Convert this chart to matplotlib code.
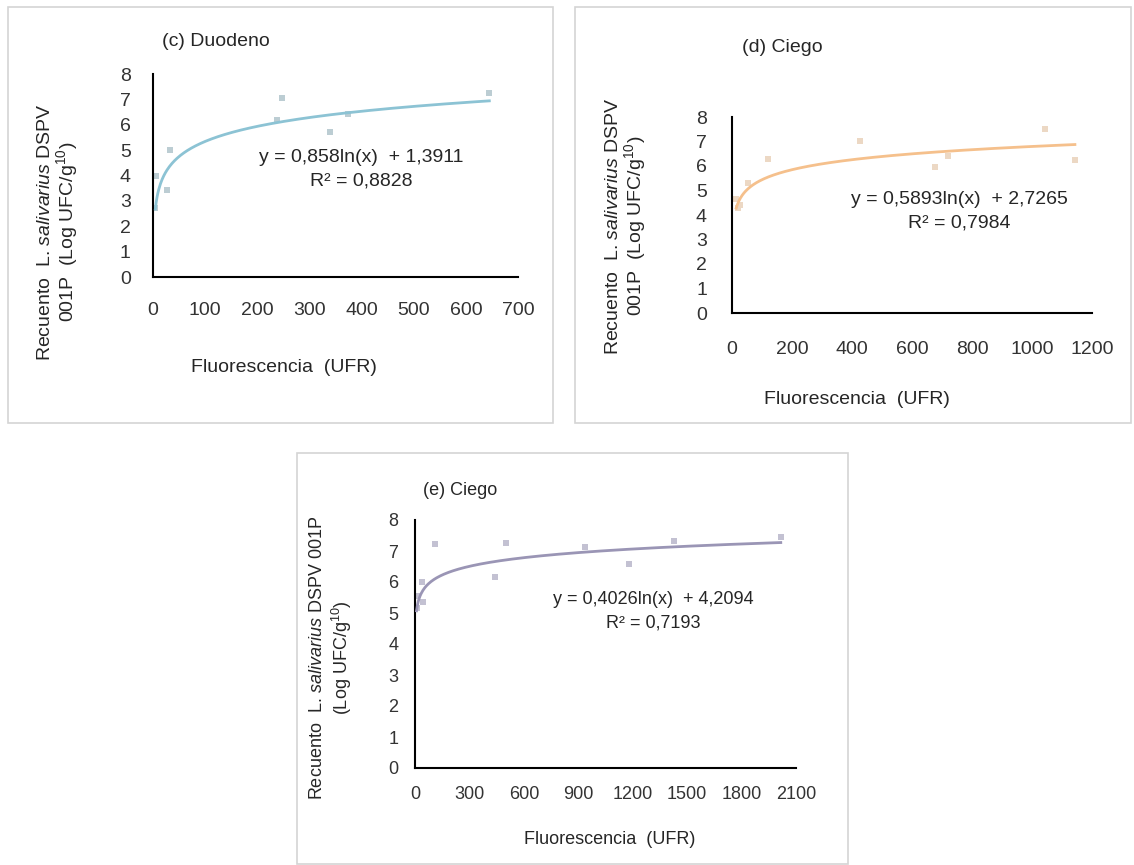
import numpy as np
import matplotlib
matplotlib.use('Agg')
import matplotlib.pyplot as plt
from matplotlib.patches import Rectangle

plt.rcParams['font.family'] = ['Liberation Sans', 'DejaVu Sans']
plt.rcParams['mathtext.fontset'] = 'custom'
plt.rcParams['mathtext.rm'] = 'Liberation Sans'
plt.rcParams['mathtext.it'] = 'Liberation Sans:italic'

W, H = 1134, 865

# (c) Duodeno
duo_x = [4.5, 6, 26, 33, 238, 248, 340, 374, 645]
duo_y = [2.7, 4.0, 3.43, 5.0, 6.19, 7.04, 5.73, 6.44, 7.24]
duo_fit = (0.858, 1.3911)

# (d) Ciego
cie_d_x = [14, 20, 28, 53, 121, 427, 677, 721, 1043, 1143]
cie_d_y = [4.65, 4.3, 4.4, 5.3, 6.3, 7.04, 5.97, 6.42, 7.49, 6.26]
cie_d_fit = (0.5893, 2.7265)

# (e) Ciego
cie_e_x = [8.5, 12, 37, 42, 110, 441, 502, 937, 1181, 1428, 2016]
cie_e_y = [5.15, 5.55, 6.0, 5.35, 7.21, 6.16, 7.26, 7.13, 6.57, 7.32, 7.45]
cie_e_fit = (0.4026, 4.2094)

fig = plt.figure(figsize=(W / 100, H / 100), dpi=100)


def fx(px):
    return px / W


def fy(py):
    return 1 - py / H


def box(x0, y0, x1, y1):
    fig.add_artist(Rectangle((fx(x0), fy(y1)), fx(x1) - fx(x0), (y1 - y0) / H,
                             transform=fig.transFigure, fill=False,
                             edgecolor='#d4d4d4', linewidth=1.2))


def panel(rect, xs, ys, fit, xmax, xstep, line_c, mark_c, fs, xpad, ypad):
    l, r, t, b = rect
    ax = fig.add_axes([fx(l), fy(b), fx(r) - fx(l), (b - t) / H])
    xs = np.array(xs)
    ax.scatter(xs, ys, s=14, marker='s', color=mark_c, zorder=2, linewidths=0)
    xx = np.linspace(xs.min(), xs.max(), 400)
    ax.plot(xx, fit[0] * np.log(xx) + fit[1], color=line_c, lw=2.0, zorder=3)
    ax.set_xlim(0, xmax)
    ax.set_ylim(0, 8)
    ax.set_xticks(np.arange(0, xmax + 1, xstep))
    ax.set_yticks(range(0, 9))
    for s in ['top', 'right']:
        ax.spines[s].set_visible(False)
    for s in ['left', 'bottom']:
        ax.spines[s].set_linewidth(1.5)
        ax.spines[s].set_color('black')
    ax.tick_params(axis='x', length=0, pad=xpad, labelsize=fs, colors='#333333')
    ax.tick_params(axis='y', length=0, pad=ypad, labelsize=fs, colors='#333333')
    ax.patch.set_alpha(0)
    return ax


lab1 = r'Recuento  L. $\mathit{salivarius}$ DSPV'
lab2 = r'001P  (Log UFC/g$^{10}$)'

# panel (c)
box(8, 7, 553, 423)
panel((153, 518, 74, 277), duo_x, duo_y, duo_fit, 700, 100,
      '#8cc3d4', '#bccdd3', 14, 18, 16)
fig.text(fx(162), fy(42), '(c) Duodeno', fontsize=14, ha='left', va='center', color='#262626')
fig.text(fx(284), fy(368), 'Fluorescencia  (UFR)', fontsize=14, ha='center', va='center', color='#262626')
fig.text(fx(46), fy(232), lab1, fontsize=14, rotation=90, ha='center', va='center', color='#262626')
fig.text(fx(67), fy(232), lab2, fontsize=14, rotation=90, ha='center', va='center', color='#262626')
fig.text(fx(361), fy(158), 'y = 0,858ln(x)  + 1,3911', fontsize=14, ha='center', va='center', color='#262626')
fig.text(fx(361), fy(181), 'R² = 0,8828', fontsize=14, ha='center', va='center', color='#262626')

# panel (d)
box(575, 7, 1131, 423)
panel((732, 1092, 117, 313), cie_d_x, cie_d_y, cie_d_fit, 1200, 200,
      '#f5c08c', '#ecd8c4', 14, 20, 18)
fig.text(fx(742), fy(47), '(d) Ciego', fontsize=14, ha='left', va='center', color='#262626')
fig.text(fx(857), fy(400), 'Fluorescencia  (UFR)', fontsize=14, ha='center', va='center', color='#262626')
fig.text(fx(613), fy(226), lab1, fontsize=14, rotation=90, ha='center', va='center', color='#262626')
fig.text(fx(635), fy(226), lab2, fontsize=14, rotation=90, ha='center', va='center', color='#262626')
fig.text(fx(959), fy(200), 'y = 0,5893ln(x)  + 2,7265', fontsize=14, ha='center', va='center', color='#262626')
fig.text(fx(959), fy(223), 'R² = 0,7984', fontsize=14, ha='center', va='center', color='#262626')

# panel (e)
box(297, 453, 848, 864)
panel((415, 796, 520, 768), cie_e_x, cie_e_y, cie_e_fit, 2100, 300,
      '#9a95b5', '#c3c1d2', 13, 13, 12)
fig.text(fx(423), fy(490), '(e) Ciego', fontsize=13, ha='left', va='center', color='#262626')
fig.text(fx(610), fy(840), 'Fluorescencia  (UFR)', fontsize=13, ha='center', va='center', color='#262626')
fig.text(fx(317), fy(658), r'Recuento  L. $\mathit{salivarius}$ DSPV 001P', fontsize=13,
         rotation=90, ha='center', va='center', color='#262626')
fig.text(fx(342), fy(658), r'(Log UFC/g$^{10}$)', fontsize=13, rotation=90,
         ha='center', va='center', color='#262626')
fig.text(fx(653), fy(600), 'y = 0,4026ln(x)  + 4,2094', fontsize=13, ha='center', va='center', color='#262626')
fig.text(fx(653), fy(623), 'R² = 0,7193', fontsize=13, ha='center', va='center', color='#262626')

fig.savefig('out.png', dpi=100, facecolor='white')
